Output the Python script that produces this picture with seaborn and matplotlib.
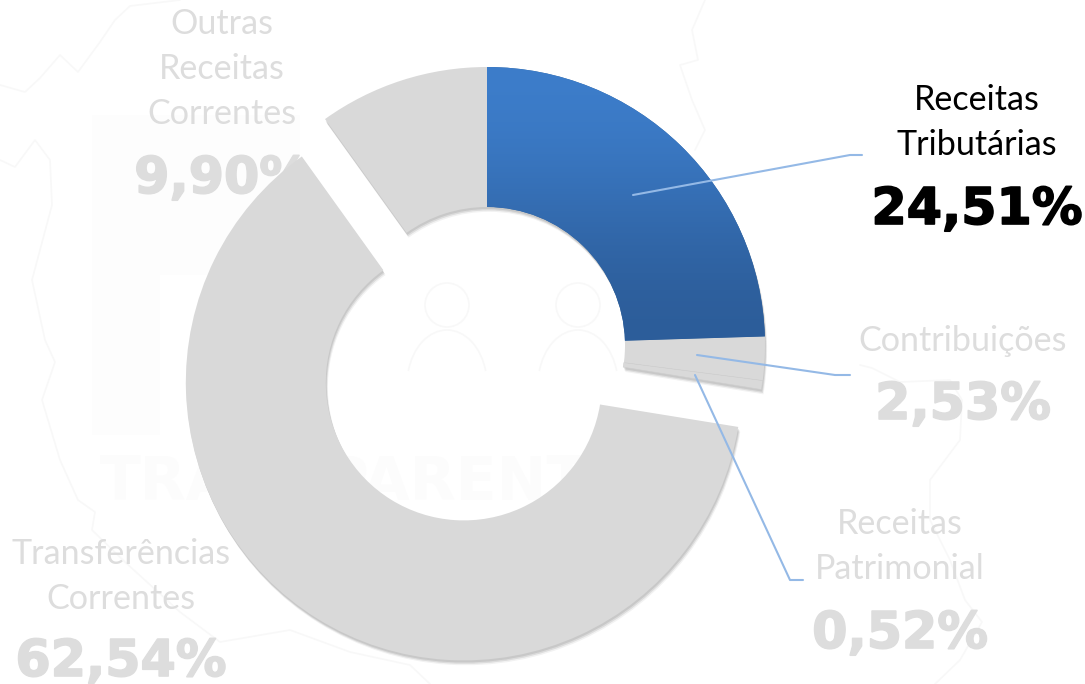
import matplotlib.pyplot as plt
import matplotlib.patheffects as pe
from matplotlib.patches import Arc, Circle
import seaborn as sns

# =====================================================
# DATA
# =====================================================

categories = [
    "Receitas Tributárias",
    "Contribuições",
    "Receitas Patrimonial",
    "Transferências Correntes",
    "Outras Receitas Correntes"
]

shares = [24.51, 2.53, 0.52, 62.54, 9.90]

share_labels = ["24,51%", "2,53%", "0,52%", "62,54%", "9,90%"]

label_lines = [
    ["Receitas", "Tributárias"],
    ["Contribuições"],
    ["Receitas", "Patrimonial"],
    ["Transferências", "Correntes"],
    ["Outras", "Receitas", "Correntes"]
]

# =====================================================
# STYLE / LAYOUT (pixel positions, y down)
# =====================================================

W, H = 1085, 684
CX, CY, R, HOLE = 487, 345, 278, 138
explode = [0, 0, 0, 44, 0]

GRAY = "#d9d9d9"
TEXT_GRAY = "#dddddd"
LINE = "#94b9e6"
MARK = "#f8f8f8"

# x centre, baseline of first line, baseline of the percent
label_pos = [
    (977, 110, 224),
    (963, 351, 419),
    (900, 534, 648),
    (121, 564, 676),
    (222, 34, 193)
]

leaders = {
    0: [(633, 195), (850, 155), (862, 155)],
    1: [(697, 355), (835, 375), (850, 375)],
    2: [(695, 375), (790, 580), (803, 580)]
}

map_left = [(0, 85), (25, 92), (40, 78), (60, 55), (78, 72), (100, 42), (115, 20), (130, 6), (180, 0)]
map_west = [(0, 160), (15, 167), (35, 140), (50, 160), (52, 205), (32, 280), (45, 340), (55, 362), (42, 400),
            (60, 460), (78, 500), (95, 512), (92, 530), (125, 562), (180, 612), (220, 642), (290, 630),
            (350, 652), (410, 665), (430, 684)]
map_north = [(705, 0), (692, 30), (698, 60), (680, 65), (692, 100), (705, 130), (695, 150)]
map_east = [(860, 365), (872, 368), (900, 382), (950, 380), (962, 400), (960, 440), (930, 480), (930, 520),
            (950, 560), (965, 600), (982, 622), (960, 660), (935, 684)]

sns.set_theme(style="white")
plt.rcParams["font.family"] = ["Lato", "DejaVu Sans"]

fig = plt.figure(figsize=(W / 100, H / 100), dpi=100)
ax = fig.add_axes([0, 0, 1, 1])


def fy(y):
    return H - y


# =====================================================
# WATERMARK
# =====================================================

for outline in [map_left, map_west, map_north, map_east]:
    ax.plot(
        [p[0] for p in outline],
        [fy(p[1]) for p in outline],
        color=MARK,
        lw=1.2,
        zorder=0
    )

ax.fill_between([92, 160], fy(435), fy(115), color="#fdfdfd", lw=0, zorder=0)
ax.fill_between([160, 300], fy(275), fy(115), color="#fdfdfd", lw=0, zorder=0)
ax.text(
    100, fy(500), "TRANSPARENTE",
    fontsize=43, fontweight="bold", family="DejaVu Sans",
    color="#fcfcfc", zorder=0
)

# people icons inside the hole
for hx in [447, 578]:
    ax.add_patch(Circle((hx, fy(305)), 22, fill=False, ec=MARK, lw=1.2, zorder=0))
    ax.add_patch(Arc((hx, fy(385)), 80, 110, theta1=20, theta2=160, ec=MARK, lw=1.2, zorder=0))

# =====================================================
# DONUT
# =====================================================

colors = [GRAY] * 5
colors[0] = "#35689f"

wedges, _ = ax.pie(
    shares,
    colors=colors,
    explode=explode,
    center=(CX, fy(CY)),
    radius=R,
    startangle=90,
    counterclock=False,
    wedgeprops={"width": R - HOLE, "linewidth": 0},
    frame=True
)

ax.set_aspect("equal")
ax.axis("off")

soft_shadow = [
    pe.SimplePatchShadow(offset=(0.5, -1.5), alpha=0.09, shadow_rgbFace="black"),
    pe.SimplePatchShadow(offset=(1, -2.5), alpha=0.09, shadow_rgbFace="black"),
    pe.SimplePatchShadow(offset=(1.5, -3.5), alpha=0.05, shadow_rgbFace="black"),
    pe.Normal()
]

for w in wedges:
    w.set_zorder(2)
    w.set_path_effects(soft_shadow)

# thin seam between the two small gray slices
wedges[2].set_edgecolor("#cdcdcd")
wedges[2].set_linewidth(0.4)

# blue slice gets a top to bottom gradient
blue_cmap = sns.blend_palette(["#3d7ecc", "#2c5c98"], as_cmap=True)
grad = ax.imshow(
    [[0], [1]],
    cmap=blue_cmap,
    extent=(CX, CX + R, fy(CY), fy(CY - R)),
    aspect="auto",
    interpolation="bicubic",
    zorder=2.1
)
grad.set_clip_path(wedges[0])
ax.set_xlim(0, W)
ax.set_ylim(0, H)

# =====================================================
# LABELS
# =====================================================

for i, lines in enumerate(label_lines):
    x, first, pct = label_pos[i]
    color = "black" if i == 0 else TEXT_GRAY
    # the 9,90% sits behind the big slice in the original
    z = 1.5 if i == 4 else 4
    for j, line in enumerate(lines):
        ax.text(x, fy(first + j * 45), line, ha="center", va="baseline",
                fontsize=24.6, color=color, zorder=z)
    ax.text(x, fy(pct), share_labels[i], ha="center", va="baseline",
            fontsize=36.5, fontweight="bold", family="DejaVu Sans", color=color, zorder=z,
            path_effects=[pe.withStroke(linewidth=1.2, foreground=color)])

for pts in leaders.values():
    ax.plot([p[0] for p in pts], [fy(p[1]) for p in pts], color=LINE, lw=1.5, zorder=3)

fig.savefig("out.png", dpi=100, facecolor="white")
plt.close(fig)
